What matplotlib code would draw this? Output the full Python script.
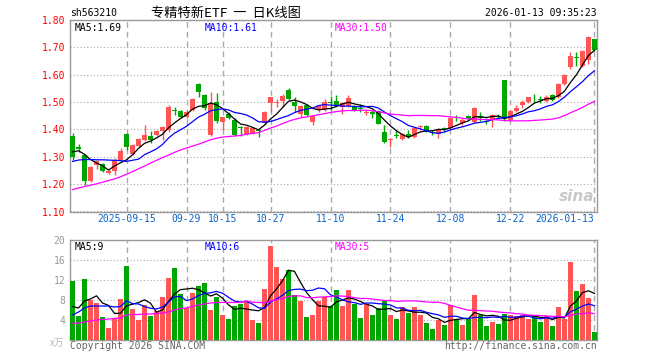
import matplotlib
matplotlib.use('Agg')
import matplotlib.pyplot as plt
import numpy as np
import pandas as pd

plt.rcParams['font.family'] = ['DejaVu Sans Mono', 'Noto Sans CJK SC']

code = 'sh563210'
title = '专精特新ETF 一 日K线图'
stamp = '2026-01-13 09:35:23'

# daily bars, 2025-09-02 .. 2026-01-13
open_ = [1.376, 1.334, 1.306, 1.212, 1.270, 1.272, 1.241, 1.249, 1.288, 1.383,
         1.312, 1.340, 1.363, 1.376, 1.379, 1.395, 1.398, 1.472, 1.467, 1.444,
         1.471, 1.566, 1.527, 1.379, 1.499, 1.427, 1.458, 1.436, 1.410, 1.383,
         1.385, 1.398, 1.422, 1.498, 1.497, 1.505, 1.544, 1.501, 1.456, 1.489,
         1.428, 1.471, 1.471, 1.500, 1.504, 1.483, 1.485, 1.485, 1.477, 1.459,
         1.462, 1.469, 1.389, 1.360, 1.380, 1.365, 1.383, 1.373, 1.410, 1.412,
         1.390, 1.382, 1.405, 1.404, 1.442, 1.422, 1.449, 1.428, 1.448, 1.430,
         1.434, 1.450, 1.580, 1.434, 1.467, 1.489, 1.501, 1.519, 1.509, 1.505,
         1.526, 1.517, 1.566, 1.627, 1.662, 1.632, 1.652, 1.730]
high = [1.386, 1.345, 1.312, 1.266, 1.287, 1.276, 1.252, 1.296, 1.331, 1.386,
        1.345, 1.368, 1.416, 1.395, 1.398, 1.413, 1.489, 1.482, 1.470, 1.470,
        1.515, 1.571, 1.530, 1.538, 1.532, 1.446, 1.465, 1.440, 1.412, 1.412,
        1.408, 1.402, 1.468, 1.520, 1.512, 1.530, 1.550, 1.517, 1.488, 1.492,
        1.452, 1.490, 1.510, 1.522, 1.526, 1.500, 1.526, 1.490, 1.492, 1.470,
        1.470, 1.472, 1.416, 1.370, 1.399, 1.388, 1.399, 1.410, 1.416, 1.416,
        1.398, 1.404, 1.410, 1.446, 1.452, 1.440, 1.452, 1.482, 1.462, 1.440,
        1.455, 1.458, 1.582, 1.470, 1.490, 1.507, 1.520, 1.529, 1.522, 1.525,
        1.528, 1.568, 1.602, 1.684, 1.682, 1.690, 1.742, 1.732]
low = [1.288, 1.318, 1.196, 1.208, 1.254, 1.245, 1.236, 1.233, 1.285, 1.325,
       1.308, 1.336, 1.357, 1.349, 1.376, 1.362, 1.392, 1.452, 1.440, 1.440,
       1.468, 1.520, 1.470, 1.375, 1.422, 1.398, 1.438, 1.376, 1.376, 1.380,
       1.383, 1.372, 1.420, 1.465, 1.482, 1.483, 1.508, 1.465, 1.446, 1.450,
       1.416, 1.465, 1.468, 1.471, 1.487, 1.458, 1.482, 1.468, 1.462, 1.452,
       1.440, 1.419, 1.352, 1.337, 1.368, 1.362, 1.370, 1.370, 1.398, 1.390,
       1.380, 1.370, 1.392, 1.400, 1.430, 1.418, 1.435, 1.425, 1.430, 1.420,
       1.410, 1.440, 1.432, 1.430, 1.462, 1.477, 1.498, 1.502, 1.495, 1.502,
       1.505, 1.515, 1.562, 1.620, 1.632, 1.628, 1.640, 1.686]
close = [1.300, 1.328, 1.212, 1.263, 1.284, 1.249, 1.249, 1.288, 1.321, 1.337,
         1.343, 1.365, 1.379, 1.363, 1.395, 1.410, 1.483, 1.468, 1.444, 1.465,
         1.511, 1.535, 1.477, 1.495, 1.432, 1.444, 1.440, 1.379, 1.405, 1.410,
         1.404, 1.395, 1.465, 1.517, 1.499, 1.522, 1.511, 1.487, 1.485, 1.452,
         1.449, 1.485, 1.500, 1.497, 1.489, 1.495, 1.514, 1.471, 1.473, 1.462,
         1.458, 1.421, 1.355, 1.366, 1.377, 1.385, 1.374, 1.407, 1.412, 1.394,
         1.388, 1.400, 1.403, 1.443, 1.440, 1.434, 1.437, 1.479, 1.440, 1.428,
         1.452, 1.446, 1.437, 1.468, 1.479, 1.501, 1.517, 1.517, 1.507, 1.520,
         1.507, 1.566, 1.599, 1.668, 1.660, 1.687, 1.739, 1.692]
# volume, 万手
volume = [11.8, 4.8, 12.2, 8.0, 7.4, 4.6, 2.4, 4.2, 8.2, 14.8,
          6.2, 4.0, 7.0, 4.8, 5.8, 8.6, 12.4, 14.4, 9.2, 6.4,
          9.4, 10.8, 11.4, 6.0, 8.6, 5.0, 4.2, 6.8, 7.2, 7.8,
          4.0, 3.4, 10.2, 18.8, 14.6, 12.2, 14.0, 9.0, 7.8, 4.6,
          5.0, 7.8, 8.6, 6.8, 10.0, 6.8, 10.0, 7.3, 4.4, 7.3,
          5.0, 6.4, 7.8, 5.0, 4.2, 6.6, 5.4, 6.6, 5.0, 3.4,
          2.2, 4.0, 3.0, 7.1, 4.2, 3.0, 4.2, 9.0, 5.1, 2.8,
          3.6, 3.2, 5.2, 5.0, 4.8, 5.0, 4.2, 5.0, 3.6, 4.8,
          2.8, 6.6, 4.2, 15.6, 9.8, 11.2, 8.4, 1.6]

# MA values before the window fills (history not shown on chart)
ma5_head = [1.318, 1.322, 1.309, 1.290]
ma10_head = [1.283, 1.288, 1.290, 1.290, 1.289, 1.289, 1.288, 1.287, 1.286]
ma30_head = [1.180, 1.186, 1.191, 1.196, 1.201, 1.207, 1.213, 1.219, 1.227, 1.236,
             1.246, 1.256, 1.266, 1.277, 1.287, 1.297, 1.306, 1.316, 1.325, 1.332,
             1.339, 1.346, 1.354, 1.362, 1.368, 1.372, 1.374, 1.376, 1.378]
vma5_head = [6.7, 6.4, 7.8, 8.2]
vma10_head = [5.0, 5.6, 6.4, 6.8, 6.8, 6.8, 6.8, 6.6, 6.7]
vma30_head = [3.3, 3.4, 3.6, 3.8, 4.0, 4.1, 4.2, 4.3, 4.4, 5.0,
              5.1, 5.1, 5.2, 5.2, 5.3, 5.4, 5.6, 6.0, 6.3, 6.4,
              6.7, 7.0, 7.2, 7.4, 7.5, 7.5, 7.5, 7.5, 7.5]

holidays = ['2025-10-01', '2025-10-02', '2025-10-03', '2025-10-06', '2025-10-07',
            '2025-10-08', '2026-01-01', '2026-01-02']
tick_dates = ['2025-09-15', '2025-09-29', '2025-10-15', '2025-10-27', '2025-11-10',
              '2025-11-24', '2025-12-08', '2025-12-22', '2026-01-13']


def moving(values, n, head):
    m = pd.Series(values).rolling(n).mean().to_numpy()
    m[:len(head)] = head
    return m


dates = pd.bdate_range('2025-09-02', '2026-01-13').difference(pd.to_datetime(holidays))
x = np.arange(len(dates))
o, h, l, c = map(np.array, (open_, high, low, close))
v = np.array(volume)
up = c >= o
red, green = '#ff5555', '#00a600'
cols = np.where(up, red, green)

ma_cols = ['black', '#0000ff', '#ff00ff']
pma = [moving(c, 5, ma5_head), moving(c, 10, ma10_head), moving(c, 30, ma30_head)]
vma = [moving(v, 5, vma5_head), moving(v, 10, vma10_head), moving(v, 30, vma30_head)]

ticks = [dates.get_loc(pd.Timestamp(d)) for d in tick_dates]
labels = [tick_dates[0]] + [d[5:] for d in tick_dates[1:-1]] + [tick_dates[-1]]

W, H = 660, 360
fig = plt.figure(figsize=(6.6, 3.6), dpi=100)
ax = fig.add_axes([70 / W, 1 - 211.5 / H, 527 / W, 191.5 / H])
axv = fig.add_axes([70 / W, 20 / H, 527 / W, 100 / H])

for a in (ax, axv):
    a.set_xlim(-0.42, len(x) - 1 + 0.42)
    for s in a.spines.values():
        s.set_color('#999999')
        s.set_linewidth(1.0)
    a.tick_params(length=0)
    a.set_axisbelow(True)
    for t in ticks:
        a.axvline(t, color='#aaaaaa', lw=1.0, ls=(0, (4, 3)), zorder=0)

# candles
ax.vlines(x, l, h, colors=cols, lw=1.0, zorder=2)
ax.bar(x, np.maximum(np.abs(c - o), 0.003), bottom=np.minimum(o, c), width=0.8,
       color=cols, zorder=3)
for m, col in zip(pma, ma_cols):
    ax.plot(x, m, color=col, lw=0.9, zorder=4)

ax.set_ylim(1.10, 1.80)
ax.set_yticks(np.arange(1.1, 1.81, 0.1))
ax.set_yticklabels(['%.2f' % t for t in np.arange(1.1, 1.81, 0.1)], color='#ff0000', fontsize=7)
ax.grid(axis='y', color='#aaaaaa', lw=0.8, ls=(0, (1, 2)))
ax.set_xticks(ticks)
ax.set_xticklabels(labels, color='#0a64c8', fontsize=7)
ax.get_xticklabels()[-1].set_ha('right')
ax.tick_params(axis='x', pad=2)

names = ['MA5', 'MA10', 'MA30']
for i, (n, m, col) in enumerate(zip(names, pma, ma_cols)):
    ax.text((75 + 130 * i - 70) / 527, 0.985, '%s:%.2f' % (n, m[-1]), color=col,
            fontsize=7, transform=ax.transAxes, va='top')

ax.text(0.995, 0.04, 'sina', color='#c8c8c8', fontsize=11, fontweight='bold',
        style='italic', family='DejaVu Sans', transform=ax.transAxes, ha='right', va='bottom')

# volume
axv.bar(x, v, width=0.8, color=cols, zorder=3)
for m, col in zip(vma, ma_cols):
    axv.plot(x, m, color=col, lw=0.9, zorder=4)
axv.set_ylim(0, 20)
axv.set_yticks([4, 8, 12, 16, 20])
axv.set_yticklabels(['4', '8', '12', '16', '20'], color='#999999', fontsize=7)
axv.grid(axis='y', color='#aaaaaa', lw=0.8, ls=(0, (1, 2)))
axv.set_xticks([])
for i, (n, m, col) in enumerate(zip(names, vma, ma_cols)):
    axv.text((75 + 130 * i - 70) / 527, 0.975, '%s:%d' % (n, int(m[-1])), color=col,
             fontsize=7, transform=axv.transAxes, va='top')

fig.text(70 / W, 1 - 13 / H, code, fontsize=7, va='center')
fig.text(151 / W, 1 - 13 / H, title.replace(' ', '  '), fontsize=9.5, va='center',
         family=['Noto Sans CJK SC', 'DejaVu Sans'])
fig.text(597 / W, 1 - 13 / H, stamp, fontsize=7, va='center', ha='right')
fig.text(64 / W, 1 - 343 / H, 'x万', fontsize=7, color='#bbbbbb', ha='right', va='center',
         family=['Noto Sans CJK SC', 'DejaVu Sans'])
fig.text(70 / W, 1 - 346 / H, 'Copyright 2026 SINA.COM', fontsize=7, color='#666666', va='center')
fig.text(597 / W, 1 - 346 / H, 'http://finance.sina.com.cn', fontsize=7, color='#666666',
         va='center', ha='right')

fig.savefig('out.png', dpi=100)
